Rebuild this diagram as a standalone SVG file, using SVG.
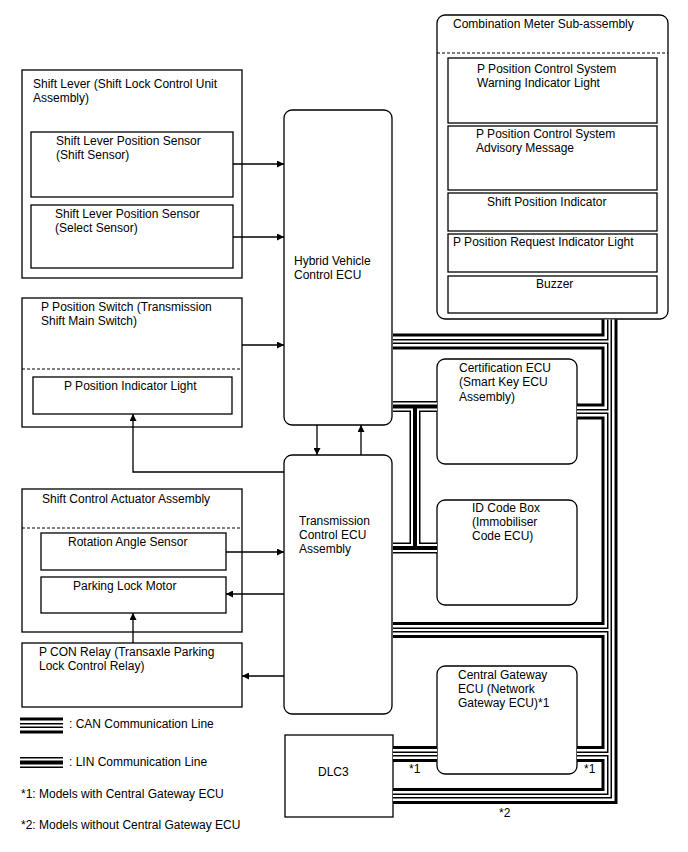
<svg xmlns="http://www.w3.org/2000/svg" width="688" height="852" viewBox="0 0 688 852">
<style>
text{font-family:"Liberation Sans",Arial,sans-serif;font-size:12px;fill:#000}
.b{fill:#fff;stroke:#000;stroke-width:1.3}
.d{fill:none;stroke:#000;stroke-width:1.2;stroke-dasharray:3 2}
.a{fill:none;stroke:#000;stroke-width:1.3;marker-end:url(#ah)}
.c1{fill:none;stroke:#000;stroke-width:16;stroke-linejoin:miter}
.c2{fill:none;stroke:#fff;stroke-width:10;stroke-linejoin:miter}
.c3{fill:none;stroke:#000;stroke-width:5;stroke-linejoin:miter}
.c4{fill:none;stroke:#fff;stroke-width:2;stroke-linejoin:miter}
.l1{fill:none;stroke:#000;stroke-width:11;stroke-linejoin:miter}
.l2{fill:none;stroke:#fff;stroke-width:8;stroke-linejoin:miter}
.l3{fill:none;stroke:#000;stroke-width:4;stroke-linejoin:miter}
</style>
<defs>
<marker id="ah" viewBox="0 0 10 10" refX="10" refY="5" markerWidth="8" markerHeight="7" markerUnits="userSpaceOnUse" orient="auto">
<path d="M0,0 L10,5 L0,10 z" fill="#000"/>
</marker>
<path id="can" d="M609.5,319.5 V796 H393 M393,341.5 H609.5 M577,411.5 H609.5 M393,630 H609.5 M577,754 H609.5 M393,754 H437"/>
<path id="lin" d="M393,406.5 H437 M415,406.5 V548 M393,548 H437"/>
<path id="canL" d="M20,725.5 H63"/>
<path id="linL" d="M20,762.5 H63"/>
</defs>
<rect width="688" height="852" fill="#fff"/>

<g id="combination-meter">
<rect class="b" x="437" y="15" width="231" height="304" rx="8"/>
<text x="453" y="28">Combination Meter Sub-assembly</text>
<line class="d" x1="437" y1="53" x2="668" y2="53"/>
<rect class="b" x="448" y="58" width="209" height="65"/>
<text x="477" y="73">P Position Control System</text>
<text x="477" y="87">Warning Indicator Light</text>
<rect class="b" x="448" y="126" width="209" height="64"/>
<text x="476" y="138">P Position Control System</text>
<text x="476" y="152">Advisory Message</text>
<rect class="b" x="448" y="193" width="209" height="38"/>
<text x="487" y="206">Shift Position Indicator</text>
<rect class="b" x="448" y="234" width="209" height="38"/>
<text x="453" y="246">P Position Request Indicator Light</text>
<rect class="b" x="448" y="276" width="209" height="37"/>
<text x="536" y="288">Buzzer</text>
</g>

<g id="shift-lever">
<rect class="b" x="22" y="70" width="220" height="208"/>
<text x="33" y="88">Shift Lever (Shift Lock Control Unit</text>
<text x="33" y="102">Assembly)</text>
<rect class="b" x="31" y="132" width="202" height="65"/>
<text x="56" y="145">Shift Lever Position Sensor</text>
<text x="56" y="159">(Shift Sensor)</text>
<rect class="b" x="31" y="205" width="202" height="63"/>
<text x="55" y="218">Shift Lever Position Sensor</text>
<text x="55" y="232">(Select Sensor)</text>
</g>

<g id="hv-ecu">
<rect class="b" x="284" y="110" width="108" height="315" rx="8"/>
<text x="294" y="265">Hybrid Vehicle</text>
<text x="294" y="279">Control ECU</text>
</g>

<g id="p-position-switch">
<rect class="b" x="22" y="298" width="220" height="129"/>
<text x="41" y="311">P Position Switch (Transmission</text>
<text x="41" y="325">Shift Main Switch)</text>
<line class="d" x1="22" y1="369" x2="242" y2="369"/>
<rect class="b" x="33" y="377" width="199" height="37"/>
<text x="64" y="390">P Position Indicator Light</text>
</g>

<g id="certification-ecu">
<rect class="b" x="437" y="359" width="140" height="105" rx="8"/>
<text x="459" y="372">Certification ECU</text>
<text x="459" y="386">(Smart Key ECU</text>
<text x="459" y="401">Assembly)</text>
</g>

<g id="transmission-ecu">
<rect class="b" x="284" y="455" width="108" height="259" rx="8"/>
<text x="299" y="525">Transmission</text>
<text x="299" y="539">Control ECU</text>
<text x="299" y="553">Assembly</text>
</g>

<g id="shift-control-actuator">
<rect class="b" x="22" y="489" width="220" height="143"/>
<text x="42" y="503">Shift Control Actuator Assembly</text>
<line class="d" x1="22" y1="528" x2="242" y2="528"/>
<rect class="b" x="41" y="533" width="185" height="37"/>
<text x="68" y="546">Rotation Angle Sensor</text>
<rect class="b" x="41" y="577" width="185" height="36"/>
<text x="73" y="590">Parking Lock Motor</text>
</g>

<g id="id-code-box">
<rect class="b" x="437" y="500" width="140" height="105" rx="8"/>
<text x="472" y="512">ID Code Box</text>
<text x="472" y="526">(Immobiliser</text>
<text x="472" y="540">Code ECU)</text>
</g>

<g id="p-con-relay">
<rect class="b" x="22" y="643" width="220" height="64"/>
<text x="39" y="656">P CON Relay (Transaxle Parking</text>
<text x="39" y="670">Lock Control Relay)</text>
</g>

<g id="central-gateway">
<rect class="b" x="437" y="666" width="140" height="108" rx="8"/>
<text x="458" y="679">Central Gateway</text>
<text x="458" y="693">ECU (Network</text>
<text x="458" y="707">Gateway ECU)*1</text>
</g>

<g id="dlc3">
<rect class="b" x="285" y="735" width="108" height="82"/>
<text x="318" y="776">DLC3</text>
</g>

<g id="notes">
<text x="409" y="773">*1</text>
<text x="584" y="773">*1</text>
<text x="499" y="817">*2</text>
</g>

<g id="legend">
<use href="#canL" class="c1"/><use href="#canL" class="c2"/><use href="#canL" class="c3"/><use href="#canL" class="c4"/>
<text x="69" y="728">: CAN Communication Line</text>
<use href="#linL" class="l1"/><use href="#linL" class="l2"/><use href="#linL" class="l3"/>
<text x="69" y="766">: LIN Communication Line</text>
<text x="21" y="798">*1: Models with Central Gateway ECU</text>
<text x="21" y="829">*2: Models without Central Gateway ECU</text>
</g>

<g id="connectors">
<use href="#can" class="c1"/><use href="#can" class="c2"/><use href="#can" class="c3"/><use href="#can" class="c4"/>
<use href="#lin" class="l1"/><use href="#lin" class="l2"/><use href="#lin" class="l3"/>
<path class="a" d="M233,164 H284"/>
<path class="a" d="M233,237 H284"/>
<path class="a" d="M242,345 H284"/>
<path class="a" d="M317,425 V455"/>
<path class="a" d="M361,455 V425"/>
<path class="a" d="M284,472 H133 V414"/>
<path class="a" d="M226,552 H284"/>
<path class="a" d="M284,594 H226"/>
<path class="a" d="M133,643 V613"/>
<path class="a" d="M284,676 H242"/>
</g>
</svg>
